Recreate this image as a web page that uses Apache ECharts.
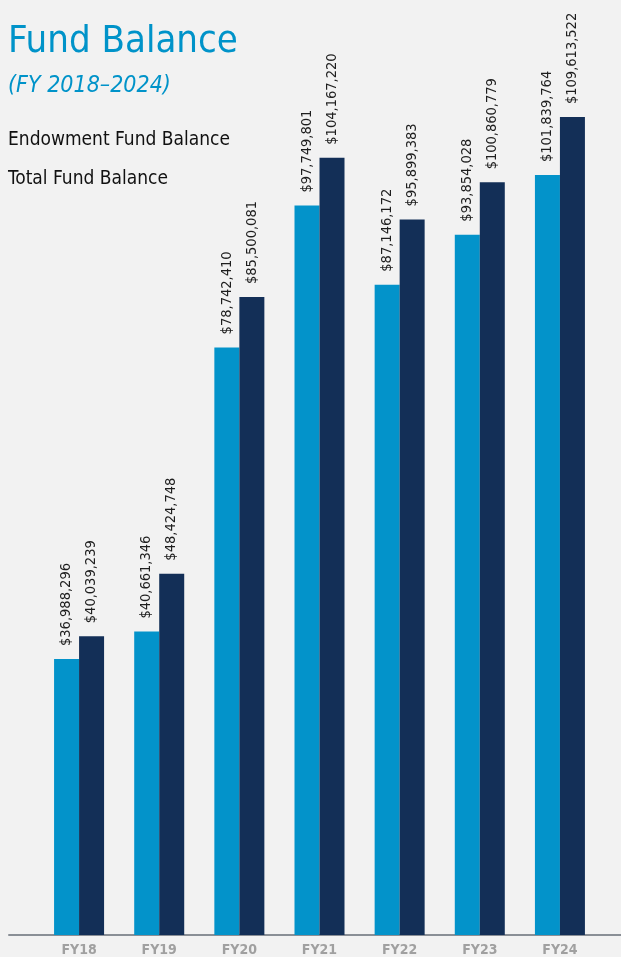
<!DOCTYPE html>
<html>
<head>
<meta charset="utf-8">
<script src="https://cdn.jsdelivr.net/npm/echarts@6/dist/echarts.min.js"></script>
<style>
html,body{margin:0;padding:0;background:#f2f2f2;}
#chart{width:621px;height:957px;}
</style>
</head>
<body>
<div id="chart"></div>
<script>
const categories = ['FY18','FY19','FY20','FY21','FY22','FY23','FY24'];
const endowment = [36988296, 40661346, 78742410, 97749801, 87146172, 93854028, 101839764];
const total = [40039239, 48424748, 85500081, 104167220, 95899383, 100860779, 109613522];
const seriesNames = ['Endowment Fund Balance', 'Total Fund Balance'];

const FONT = '"DejaVu Sans Condensed", "Liberation Sans Narrow", "Roboto", sans-serif';
const chart = echarts.init(document.getElementById('chart'));
const labelCfg = {
  show: true,
  position: 'top',
  rotate: 90,
  align: 'left',
  verticalAlign: 'middle',
  distance: 13,
  color: '#1e1e1e',
  fontFamily: FONT,
  fontSize: 14.5,
  formatter: p => '$' + p.value.toLocaleString('en-US')
};
chart.setOption({
  backgroundColor: '#f2f2f2',
  animation: false,
  title: [
    {text: 'Fund Balance', left: 3, top: 18,
     textStyle: {color: '#0093c9', fontFamily: FONT, fontSize: 38, fontWeight: 'normal'}},
    {text: '(FY 2018–2024)', left: 3, top: 70,
     textStyle: {color: '#0093c9', fontFamily: FONT, fontSize: 23, fontStyle: 'italic', fontWeight: 'normal'}}
  ],
  legend: {
    orient: 'vertical', left: -2, top: 125,
    icon: 'none', itemWidth: 0, itemHeight: 20, itemGap: 20,
    selectedMode: false,
    textStyle: {color: '#111', fontFamily: FONT, fontSize: 19, padding: [0,0,0,0]},
    data: seriesNames
  },
  grid: [
    {left: 39, right: 21, top: 47, bottom: 22},
    {left: 9, right: 0, top: 47, bottom: 22}
  ],
  xAxis: [
    {type: 'category', data: categories, gridIndex: 0,
     axisLine: {show: false}, axisTick: {show: false},
     axisLabel: {color: '#a0a0a0', fontFamily: FONT, fontWeight: 'bold', fontSize: 14, margin: 8}},
    {type: 'category', data: [''], gridIndex: 1,
     axisLine: {show: true, lineStyle: {color: '#8a8f96', width: 2}},
     axisTick: {show: false}, axisLabel: {show: false}}
  ],
  yAxis: [
    {type: 'value', gridIndex: 0, min: 0, max: 119000000, show: false, splitLine: {show: false}},
    {type: 'value', gridIndex: 1, min: 0, max: 1, show: false, splitLine: {show: false}}
  ],
  series: [
    {name: seriesNames[0], type: 'bar', data: endowment, barWidth: 25, barGap: '0%',
     itemStyle: {color: '#0393ca'}, label: labelCfg, z: 3},
    {name: seriesNames[1], type: 'bar', data: total, barWidth: 25, barGap: '0%',
     itemStyle: {color: '#132f57'}, label: labelCfg, z: 3}
  ]
});
</script>
</body>
</html>
